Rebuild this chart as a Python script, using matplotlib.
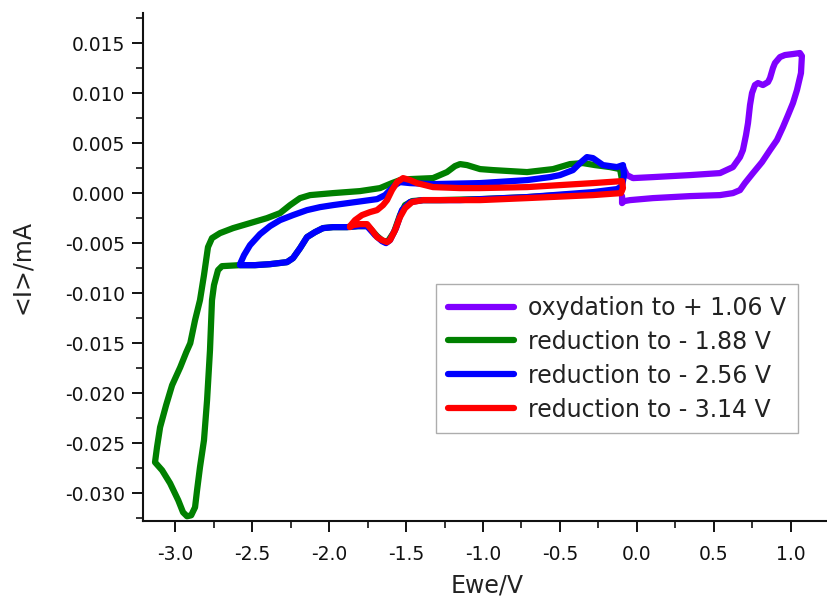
import matplotlib
matplotlib.use("Agg")
import matplotlib.pyplot as plt
from matplotlib.ticker import MultipleLocator, FormatStrFormatter

plt.rcParams['font.family'] = ['DejaVu Sans']
plt.rcParams['axes.unicode_minus'] = False

labels = ["oxydation to + 1.06 V", "reduction to - 1.88 V",
          "reduction to - 2.56 V", "reduction to - 3.14 V"]
colors = ["#8000FF", "#008000", "#0000FF", "#FF0000"]

# purple: oxidation scan
ox_E = [-0.091, -0.065, -0.026, 0.104, 0.344, 0.539, 0.623, 0.669, 0.688, 0.708, 0.721, 0.734,
        0.747, 0.766, 0.786, 0.818, 0.851, 0.864, 0.883, 0.896, 0.929, 0.961, 1.013, 1.058,
        1.071, 1.065, 1.039, 1.013, 0.981, 0.948, 0.909, 0.864, 0.812, 0.753, 0.701, 0.669,
        0.623, 0.539, 0.344, 0.104, -0.045, -0.084, -0.097, -0.097]
ox_I = [0.0026, 0.0018, 0.0015, 0.0016, 0.0018, 0.0020, 0.0026, 0.0036, 0.0043, 0.0058, 0.0070, 0.0088,
        0.0100, 0.0108, 0.0110, 0.0108, 0.0111, 0.0115, 0.0125, 0.0130, 0.0136, 0.0138, 0.0139, 0.0140,
        0.0137, 0.0120, 0.0103, 0.0090, 0.0078, 0.0066, 0.0053, 0.0043, 0.0031, 0.0020, 0.0010, 0.0003,
        0.0000, -0.0002, -0.0003, -0.0005, -0.0007, -0.0008, -0.0010, -0.0003]

# green
g_E = [-0.104, -0.240, -0.500, -0.714, -1.019, -1.279, -1.390, -1.461, -1.506, -1.539, -1.578, -1.617,
       -1.649, -1.688, -1.747, -1.812, -1.883, -1.974, -2.039, -2.091, -2.143, -2.188, -2.234, -2.273,
       -2.383, -2.481, -2.578, -2.695, -2.721, -2.747, -2.760, -2.773, -2.792, -2.812, -2.838, -2.857,
       -2.870, -2.895, -2.922, -2.948, -2.979, -3.032, -3.084, -3.130,
       -3.117, -3.097, -3.058, -3.019, -2.966, -2.927, -2.901, -2.870, -2.838, -2.812, -2.786, -2.760,
       -2.708, -2.623, -2.513, -2.403, -2.318, -2.253, -2.188, -2.123, -1.974, -1.799, -1.669, -1.591,
       -1.539, -1.474, -1.325, -1.234, -1.182, -1.149, -1.104, -1.019, -0.935, -0.714, -0.545, -0.435,
       -0.351, -0.273, -0.175, -0.110, -0.097, -0.104]
g_I = [0.0002, 0.0000, -0.0002, -0.0004, -0.0006, -0.0007, -0.0007, -0.0008, -0.0012, -0.0022, -0.0039, -0.0048,
       -0.0048, -0.0043, -0.0033, -0.0033, -0.0034, -0.0034, -0.0035, -0.0039, -0.0044, -0.0055, -0.0065, -0.0069,
       -0.0071, -0.0072, -0.0072, -0.0073, -0.0077, -0.0092, -0.0107, -0.0157, -0.0207, -0.0247, -0.0274, -0.0297,
       -0.0314, -0.0322, -0.0323, -0.0319, -0.0307, -0.0290, -0.0277, -0.0269,
       -0.0254, -0.0234, -0.0212, -0.0192, -0.0174, -0.0159, -0.0150, -0.0127, -0.0107, -0.0082, -0.0054, -0.0045,
       -0.0040, -0.0035, -0.0030, -0.0025, -0.0020, -0.0012, -0.0005, -0.0002, 0.0000, 0.0002, 0.0005, 0.0010,
       0.0013, 0.0014, 0.0015, 0.0021, 0.0027, 0.0029, 0.0028, 0.0024, 0.0023, 0.0021, 0.0024, 0.0029,
       0.0030, 0.0028, 0.0026, 0.0024, 0.0013, 0.0002]

# blue
b_E = [-2.578, -2.552, -2.513, -2.448, -2.383, -2.318, -2.234, -2.143, -2.058, -1.974, -1.831, -1.688,
       -1.636, -1.604, -1.571, -1.539, -1.474, -1.325, -1.019, -0.714, -0.565, -0.500, -0.416, -0.370,
       -0.325, -0.286, -0.221, -0.130, -0.091, -0.084, -0.097,
       -0.130, -0.286, -0.714, -1.149, -1.390, -1.474, -1.526, -1.565, -1.604, -1.630, -1.656, -1.701,
       -1.753, -1.812, -1.883, -1.974, -2.039, -2.091, -2.143, -2.188, -2.234, -2.273, -2.383, -2.481, -2.578]
b_I = [-0.0071, -0.0062, -0.0052, -0.0041, -0.0033, -0.0027, -0.0022, -0.0017, -0.0014, -0.0012, -0.0009, -0.0006,
       -0.0002, 0.0003, 0.0008, 0.0011, 0.0010, 0.0009, 0.0010, 0.0013, 0.0016, 0.0018, 0.0023, 0.0030,
       0.0036, 0.0035, 0.0028, 0.0026, 0.0028, 0.0018, 0.0007,
       0.0004, 0.0001, -0.0004, -0.0007, -0.0007, -0.0009, -0.0017, -0.0035, -0.0047, -0.0050, -0.0048, -0.0042,
       -0.0033, -0.0033, -0.0034, -0.0034, -0.0035, -0.0039, -0.0044, -0.0055, -0.0065, -0.0069, -0.0071, -0.0072, -0.0072]

# red
r_E = [-1.864, -1.831, -1.786, -1.734, -1.688, -1.649, -1.623, -1.591, -1.558, -1.519, -1.474, -1.429,
       -1.325, -1.149, -1.019, -0.714, -0.286, -0.097, -0.091, -0.104, -0.286, -0.714, -1.019, -1.390,
       -1.461, -1.506, -1.539, -1.571, -1.604, -1.623, -1.656, -1.688, -1.721, -1.753, -1.799, -1.844, -1.864]
r_I = [-0.0033, -0.0027, -0.0022, -0.0019, -0.0017, -0.0012, -0.0007, 0.0003, 0.0011, 0.0015, 0.0013, 0.0010,
       0.0006, 0.0005, 0.0005, 0.0006, 0.0010, 0.0012, 0.0005, 0.0000, -0.0002, -0.0005, -0.0007, -0.0007,
       -0.0009, -0.0015, -0.0024, -0.0037, -0.0047, -0.0049, -0.0047, -0.0044, -0.0037, -0.0031, -0.0031, -0.0032, -0.0034]

series_E = [ox_E, g_E, b_E, r_E]
series_I = [ox_I, g_I, b_I, r_I]

fig = plt.figure(figsize=(8.27, 5.99), dpi=100)
ax = fig.add_axes([143/827, 78/599, 684/827, 508/599])

for E, I, c, lab in zip(series_E, series_I, colors, labels):
    ax.plot(E, I, color=c, lw=4.5, label=lab, solid_joinstyle='round', solid_capstyle='round')

ax.set_xlim(-3.208, 1.234)
ax.set_ylim(-0.03277, 0.0180)

ax.xaxis.set_major_locator(MultipleLocator(0.5))
ax.xaxis.set_minor_locator(MultipleLocator(0.25))
ax.yaxis.set_major_locator(MultipleLocator(0.005))
ax.yaxis.set_minor_locator(MultipleLocator(0.0025))
ax.xaxis.set_major_formatter(FormatStrFormatter('%.1f'))
ax.yaxis.set_major_formatter(FormatStrFormatter('%.3f'))

for s in ['top', 'right']:
    ax.spines[s].set_visible(False)
for s in ['left', 'bottom']:
    ax.spines[s].set_linewidth(1.5)
    ax.spines[s].set_color('#111111')

ax.tick_params(which='major', direction='out', length=8, width=1.4, labelsize=13.5, colors='#111111')
ax.tick_params(which='minor', direction='out', length=5, width=1.2, colors='#111111')
ax.tick_params(axis='x', which='major', pad=9)
ax.tick_params(axis='y', which='major', pad=5)

ax.set_xlabel("Ewe/V", fontsize=17, color='#222222')
ax.set_ylabel("<I>/mA", fontsize=17, color='#222222')
ax.xaxis.set_label_coords((487-143)/684, -0.104)
ax.yaxis.set_label_coords(-0.160, 0.5)

leg = ax.legend(loc='upper right', bbox_to_anchor=((798-143)/684, (521-284)/508),
                borderaxespad=0, fontsize=17, handlelength=2.8, handletextpad=0.6,
                labelspacing=0.42, borderpad=0.5, fancybox=False, frameon=True)
leg.get_frame().set_edgecolor('#999999')
leg.get_frame().set_linewidth(1.0)
for t in leg.get_texts():
    t.set_color('#222222')

fig.savefig("out.png", dpi=100)
